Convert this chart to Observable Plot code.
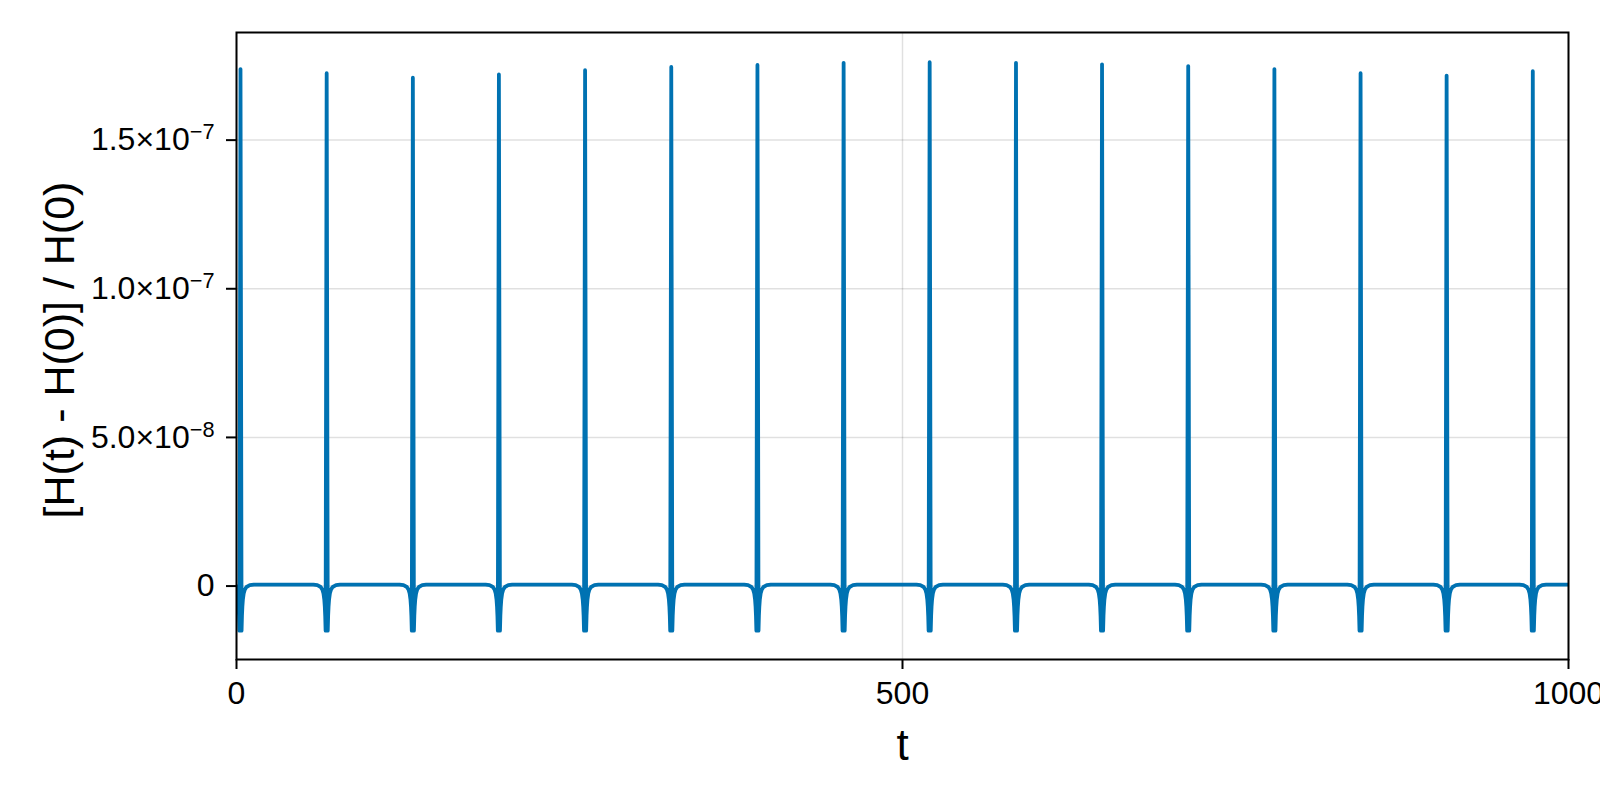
<!DOCTYPE html>
<html>
<head>
<meta charset="utf-8">
<script src="https://cdn.jsdelivr.net/npm/d3@7"></script>
<script src="https://cdn.jsdelivr.net/npm/@observablehq/plot@0.6"></script>
<style>
  html, body { margin: 0; padding: 0; background: #fff; }
  #chart svg { display: block; overflow: visible; }
</style>
</head>
<body>
<div id="chart"></div>
<script>
// ---- data ----
// times of the close-encounter events (t)
const eventTimes = [3.0, 67.7, 132.4, 197.0, 261.7, 326.4, 391.1, 455.8, 520.4, 585.2, 649.8, 714.5, 779.2, 843.9, 908.5, 973.2];
// peak relative energy error at each event
const eventPeaks = [1.739e-7, 1.725e-7, 1.710e-7, 1.721e-7, 1.735e-7, 1.746e-7, 1.753e-7, 1.760e-7, 1.762e-7, 1.760e-7, 1.755e-7, 1.749e-7, 1.739e-7, 1.725e-7, 1.717e-7, 1.732e-7];
// shape of the dip around each event: offsets in t and values
const dipLeftOffsets = [-10, -7, -4.5, -3.2, -2.4, -1.8, -1.4, -1.1, -0.8];
const dipLeftValues  = [0.5e-9, 0.3e-9, -0.3e-9, -1.2e-9, -2.5e-9, -4.5e-9, -7e-9, -10e-9, -15e-9];
const dipRightOffsets = [0.8, 1.1, 1.4, 1.8, 2.4, 3.2, 4.5, 7, 10];
const dipRightValues  = [-15e-9, -10e-9, -7e-9, -4.5e-9, -2.5e-9, -1.2e-9, -0.3e-9, 0.3e-9, 0.5e-9];
const startPoint = {t: 0, v: 0};
const endPoint = {t: 1000, v: 0.5e-9};

const xTicks = [0, 500, 1000];
const yTicks = [0, 5e-8, 1e-7, 1.5e-7];
const yTickMantissa = ["0", "5.0×10", "1.0×10", "1.5×10"];
const yTickExponent = ["", "−8", "−7", "−7"];

// ---- build table ----
const rows = [startPoint];
eventTimes.forEach((t0, i) => {
  dipLeftOffsets.forEach((o, j) => rows.push({t: t0 + o, v: dipLeftValues[j]}));
  rows.push({t: t0, v: eventPeaks[i]});
  dipRightOffsets.forEach((o, j) => rows.push({t: t0 + o, v: dipRightValues[j]}));
});
rows.push(endPoint);
const data = rows.filter(d => d.t >= 0 && d.t <= 1000).sort((a, b) => a.t - b.t);

const font = "'Liberation Sans', Arial, Helvetica, sans-serif";

const chart = Plot.plot({
  width: 1600,
  height: 800,
  marginLeft: 236,
  marginRight: 32,
  marginTop: 32,
  marginBottom: 141,
  style: {fontFamily: font, background: "#fff", color: "#000"},
  x: {domain: [0, 1000]},
  y: {domain: [-2.47e-8, 1.862e-7]},
  marks: [
    Plot.gridX(xTicks, {stroke: "#000", strokeOpacity: 0.12, strokeWidth: 1.5}),
    Plot.gridY(yTicks, {stroke: "#000", strokeOpacity: 0.12, strokeWidth: 1.5}),
    Plot.line(data, {x: "t", y: "v", stroke: "#0072B2", strokeWidth: 3.8, clip: true}),
    Plot.frame({stroke: "#000", strokeWidth: 2}),
    Plot.axisX(xTicks, {tickSize: 10, tickPadding: 12, fontSize: 32, strokeWidth: 2, label: null, tickFormat: d => String(d)}),
    Plot.axisY(yTicks, {tickSize: 10, tickPadding: 12, fontSize: 32, strokeWidth: 2, label: null, tickFormat: (d, i) => yTickMantissa[i]}),
    Plot.text(["[H(t) - H(0)] / H(0)"], {frameAnchor: "left", textAnchor: "middle", dx: -176, dy: 4, rotate: -90, fontSize: 43, fill: "#000"}),
    Plot.text(["t"], {frameAnchor: "bottom", dy: 100, fontSize: 44, fill: "#000"})
  ]
});
document.getElementById("chart").appendChild(chart);

// add superscript exponents to the y tick labels
const yLabels = chart.querySelectorAll('g[aria-label="y-axis tick label"] text');
yLabels.forEach((el, i) => {
  if (yTickExponent[i]) {
    const ts = document.createElementNS("http://www.w3.org/2000/svg", "tspan");
    ts.setAttribute("dy", "-0.5em");
    ts.setAttribute("font-size", "0.68em");
    ts.textContent = yTickExponent[i];
    el.appendChild(ts);
  }
});
</script>
</body>
</html>
